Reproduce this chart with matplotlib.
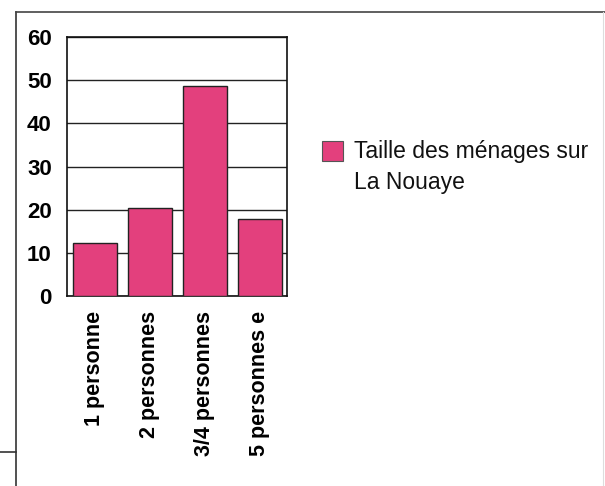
import matplotlib
matplotlib.use('Agg')
import matplotlib.pyplot as plt
from matplotlib.patches import Rectangle
from matplotlib.lines import Line2D

plt.rcParams['font.family'] = ['Liberation Sans', 'DejaVu Sans']

# Household size breakdown
categories = ['1 personne', '2 personnes', '3/4 personnes', '5 personnes e']
values = [12.3, 20.4, 48.6, 17.8]
yticks = [0, 10, 20, 30, 40, 50, 60]
series_label = 'Taille des ménages sur\nLa Nouaye'

bar_color = '#e3407d'

fig = plt.figure(figsize=(6.05, 4.86), dpi=100)
ax = fig.add_axes([67 / 605, 1 - 296 / 486, 220 / 605, 259 / 486])

x = range(len(categories))
ax.bar(x, values, width=0.8, color=bar_color, edgecolor='#222222',
       linewidth=1.0, zorder=3)

ax.set_xlim(-0.5, len(categories) - 0.5)
ax.set_ylim(0, 60)
ax.set_yticks(yticks)
ax.set_yticklabels([str(v) for v in yticks], fontsize=16, fontweight='bold')
ax.set_xticks(list(x))
ax.set_xticklabels(categories, rotation=90, fontsize=15.5, fontweight='bold',
                   va='top', ha='center')
ax.tick_params(axis='y', length=0, pad=11)
ax.tick_params(axis='x', length=0, pad=11)

ax.yaxis.grid(True, color='#222222', linewidth=1.0, zorder=1)
ax.set_axisbelow(True)
for s in ax.spines.values():
    s.set_color('#111111')
    s.set_linewidth(1.2)

# legend drawn by hand so the swatch sits next to the first line
fig.add_artist(Rectangle((322 / 605, 1 - 161 / 486), 21 / 605, 20 / 486,
                         transform=fig.transFigure, facecolor=bar_color,
                         edgecolor='#555555', linewidth=0.8))
fig.text(354 / 605, 1 - 140 / 486, series_label, fontsize=16.5,
         va='top', ha='left', linespacing=1.45, color='#111111')

# outer chart frame
fig.add_artist(Line2D([16 / 605, 16 / 605], [0, 1 - 12 / 486],
                      transform=fig.transFigure, color='#333333', linewidth=1.2))
fig.add_artist(Line2D([16 / 605, 1], [1 - 12 / 486, 1 - 12 / 486],
                      transform=fig.transFigure, color='#444444', linewidth=1.2))
fig.add_artist(Line2D([603 / 605, 603 / 605], [0, 1 - 12 / 486],
                      transform=fig.transFigure, color='#dddddd', linewidth=0.8))
fig.add_artist(Line2D([0, 16 / 605], [1 - 452 / 486, 1 - 452 / 486],
                      transform=fig.transFigure, color='#333333', linewidth=1.2))

fig.savefig('out.png', dpi=100)
